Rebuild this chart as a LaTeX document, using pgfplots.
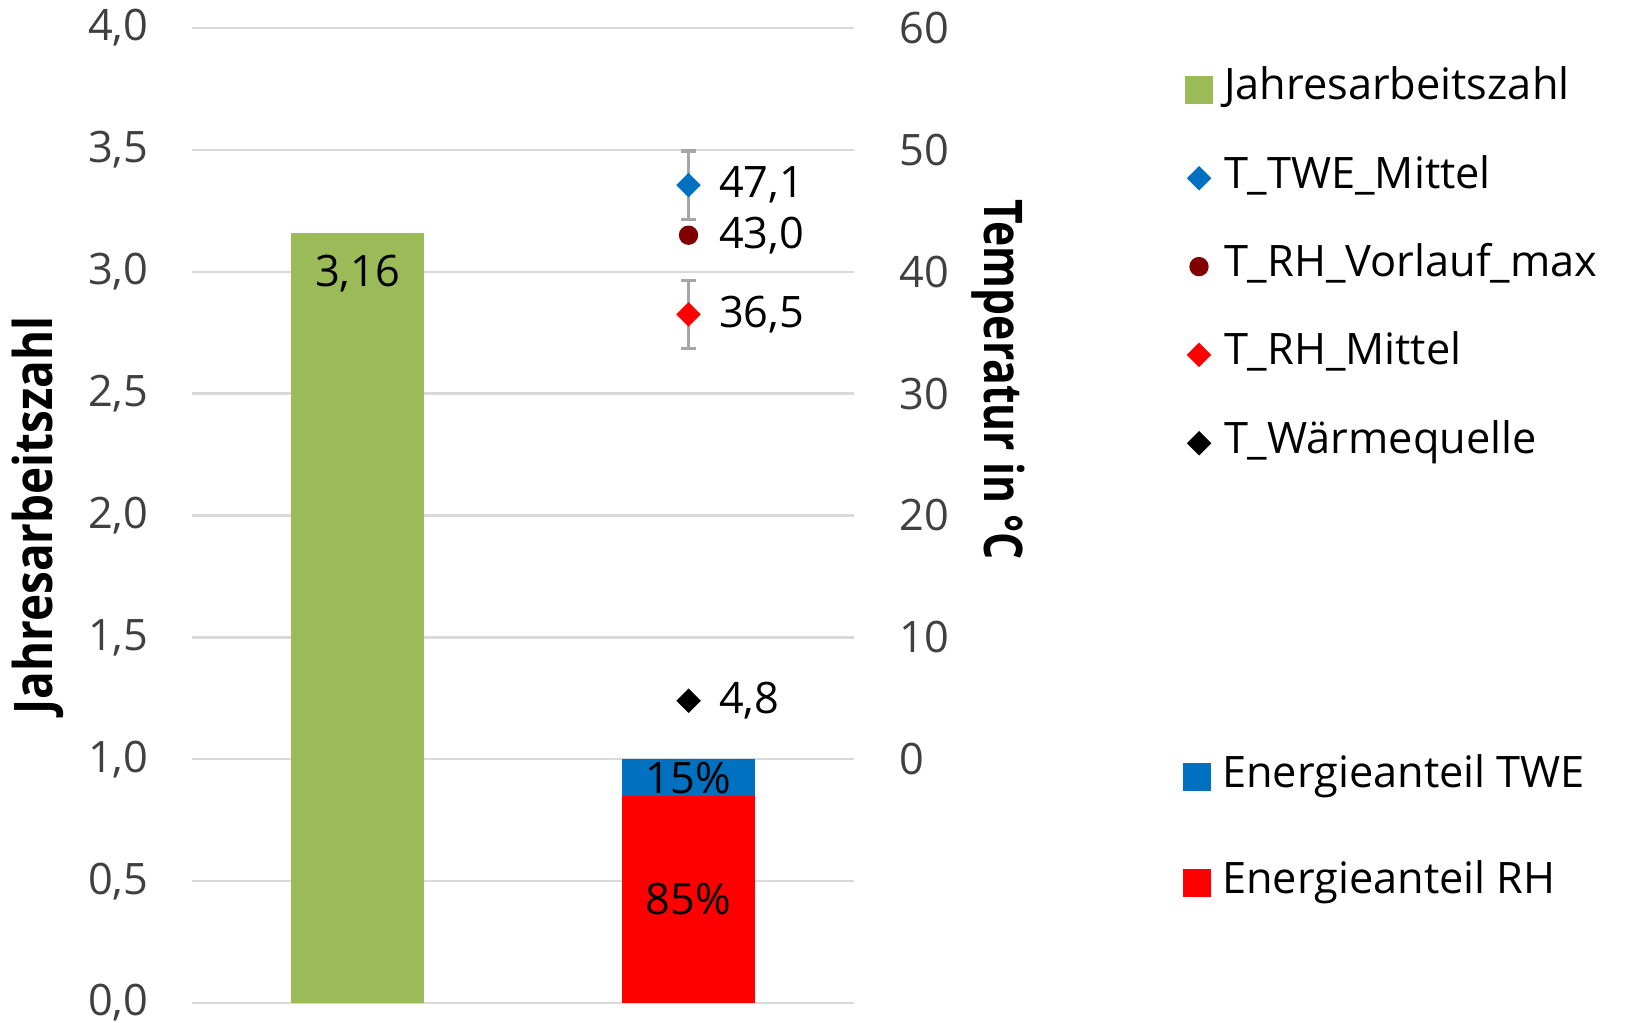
\documentclass[border=0pt]{standalone}
\usepackage{fontspec}
\setmainfont{Open Sans}
\usepackage{graphicx}
\usepackage{pgfplots}
\pgfplotsset{compat=1.18}
\pgfkeys{/pgf/number format/assume math mode=true}

\definecolor{jazgreen}{HTML}{9BBB59}
\definecolor{twblue}{HTML}{0070C0}
\definecolor{rhred}{HTML}{FF0000}
\definecolor{vldred}{HTML}{800000}
\definecolor{gridgray}{HTML}{D9D9D9}
\definecolor{errgray}{HTML}{A6A6A6}
\definecolor{ticktext}{HTML}{404040}

\pgfplotsset{
  twinaxis/.style={
    at={(57.6pt,6pt)}, anchor=south west,
    scale only axis, width=198.6pt, height=292.5pt,
    xmin=-0.5, xmax=1.5, enlargelimits=false,
    major tick length=0pt, clip=false,
  },
  sqlegend/.style={legend image code/.code={
    \path[draw=none, fill=none] (0pt,-4.2pt) rectangle (8.4pt,4.2pt);
    \fill[##1, draw=none] (0pt,-4.2pt) rectangle (8.4pt,4.2pt);}},
}

\begin{document}
\begin{tikzpicture}[font=\fontsize{13}{15.6}\selectfont]
\useasboundingbox (0,0) rectangle (489pt,306.9pt);

% linke Achse: Balken
\begin{axis}[twinaxis,
  ymin=0, ymax=4, ytick={0,0.5,...,4}, xtick=\empty,
  ymajorgrids, grid style={draw=gridgray, line width=0.7pt},
  axis x line*=bottom, x axis line style={draw=gridgray, line width=0.7pt, -},
  axis y line*=left, y axis line style={draw=none},
  yticklabel style={inner sep=0pt, anchor=east, xshift=-12.9pt, text=ticktext,
    /pgf/number format/.cd, fixed, fixed zerofill, precision=1, use comma},
  ylabel={\scalebox{0.86}[1]{\fontsize{16}{18}\selectfont\bfseries Jahresarbeitszahl}},
  every axis y label/.style={at={(axis description cs:-0.2326,0.5)}, rotate=90, anchor=center},
  ybar stacked, bar width=0.4,
  legend style={draw=none, fill=none, inner sep=0pt, outer sep=0pt,
    at={(1.497,0.252)}, anchor=north west, row sep=19.8pt, column sep=3.3pt,
    nodes={inner sep=0pt, anchor=west, text height=9pt, text depth=3pt}},
  legend cell align=left,
]
\addplot[fill=jazgreen, draw=none, forget plot] coordinates {(0,3.16) (1,0)};
\addplot[fill=rhred, draw=none, forget plot] coordinates {(0,0) (1,0.85)};
\addplot[fill=twblue, draw=none, forget plot] coordinates {(0,0) (1,0.15)};
\addlegendimage{sqlegend, twblue}
\addlegendentry{Energieanteil TWE}
\addlegendimage{sqlegend, rhred}
\addlegendentry{Energieanteil RH}
\end{axis}

% Beschriftung der Balken
\begin{axis}[twinaxis, ymin=0, ymax=4, hide axis]
\node[inner sep=0pt] at (axis cs:0,3.16) [yshift=-12.4pt] {3,16};
\node[inner sep=0pt] at (axis cs:1,0.925) {15\%};
\node[inner sep=0pt] at (axis cs:1,0.425) {85\%};
\end{axis}

% rechte Achse: Temperaturen
\begin{axis}[twinaxis,
  ymin=-20, ymax=60, ytick={0,10,...,60},
  hide x axis,
  axis y line*=right, y axis line style={draw=none},
  yticklabel style={inner sep=0pt, anchor=west, xshift=13.5pt, text=ticktext},
  ylabel={\scalebox{0.8}[1]{\fontsize{16}{18}\selectfont\bfseries Temperatur in °C}},
  every axis y label/.style={at={(axis description cs:1.2175,0.639)}, rotate=-90, anchor=center},
  nodes near coords={\pgfmathprintnumber[fixed, fixed zerofill, precision=1, use comma]{\pgfplotspointmeta}},
  every node near coord/.style={anchor=west, xshift=9pt, inner sep=0pt, text=black},
  error bars/error bar style={draw=errgray, line width=1pt},
  error bars/error mark options={rotate=90, mark size=2.3pt, draw=errgray, line width=1pt},
  legend image code/.code={
    \path[draw=none, fill=none] (0pt,-4.2pt) rectangle (8.4pt,4.2pt);
    \draw[mark repeat=2, mark phase=2, #1] plot coordinates {(0pt,0pt) (4.2pt,0pt) (8.4pt,0pt)};},
  legend style={draw=none, fill=none, inner sep=0pt, outer sep=0pt,
    at={(1.5,0.957)}, anchor=north west, row sep=14.5pt, column sep=3.3pt,
    nodes={inner sep=0pt, anchor=west, text height=9pt, text depth=3pt}},
  legend cell align=left,
]
\addlegendimage{sqlegend, jazgreen}
\addlegendentry{Jahresarbeitszahl}
\addplot[only marks, mark=square*, mark size=2.4pt, mark options={rotate=45, fill=twblue, draw=twblue},
  error bars/.cd, y dir=both, y explicit]
  coordinates {(1,47.1) +- (0,2.8)};
\addlegendentry{T\_TWE\_Mittel}
\addplot[only marks, mark=*, mark size=2.7pt, mark options={fill=vldred, draw=vldred}]
  coordinates {(1,43.0)};
\addlegendentry{T\_RH\_Vorlauf\_max}
\addplot[only marks, mark=square*, mark size=2.4pt, mark options={rotate=45, fill=rhred, draw=rhred},
  error bars/.cd, y dir=both, y explicit]
  coordinates {(1,36.5) +- (0,2.8)};
\addlegendentry{T\_RH\_Mittel}
\addplot[only marks, mark=square*, mark size=2.4pt, mark options={rotate=45, fill=black, draw=black}]
  coordinates {(1,4.8)};
\addlegendentry{T\_Wärmequelle}
\end{axis}
\end{tikzpicture}
\end{document}
